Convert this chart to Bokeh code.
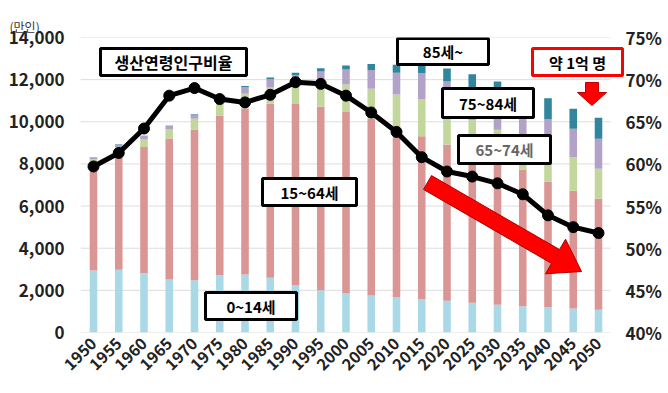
import numpy as np
from bokeh.plotting import figure
from bokeh.models import (Range1d, LinearAxis, BoxAnnotation, Label, FixedTicker,
                          NumeralTickFormatter, ColumnDataSource)
from bokeh.embed import file_html
from bokeh.resources import INLINE

# ---------------- data (만인) ----------------
years = [1950, 1955, 1960, 1965, 1970, 1975, 1980, 1985, 1990, 1995, 2000,
         2005, 2010, 2015, 2020, 2025, 2030, 2035, 2040, 2045, 2050]
age_0_14 = [2943, 2980, 2807, 2517, 2482, 2722, 2751, 2603, 2249, 2001, 1847,
            1752, 1680, 1589, 1507, 1407, 1321, 1246, 1194, 1138, 1077]
age_15_64 = [4966, 5473, 6000, 6693, 7157, 7581, 7883, 8251, 8590, 8716, 8622,
             8409, 8103, 7728, 7406, 7170, 6875, 6494, 5978, 5584, 5275]
age_65_74 = [309, 355, 373, 429, 509, 602, 699, 776, 892, 1109, 1301,
             1407, 1517, 1755, 1747, 1497, 1428, 1522, 1230, 1600, 1420]
age_75_84 = [92, 108, 146, 170, 199, 248, 313, 393, 482, 562, 712,
             886, 1028, 1235, 1252, 1460, 1520, 1254, 1720, 1345, 1424]
age_85p = [10, 12, 16, 19, 25, 37, 53, 78, 115, 155, 190,
           283, 380, 397, 620, 720, 768, 1006, 1000, 950, 997]
working_ratio = [59.7, 61.3, 64.2, 68.1, 69.0, 67.7, 67.3, 68.2, 69.7, 69.5, 68.1,
                 66.1, 63.8, 60.8, 59.1, 58.5, 57.7, 56.4, 53.9, 52.5, 51.8]
left_ticks = [0, 2000, 4000, 6000, 8000, 10000, 12000, 14000]
right_ticks = [40, 45, 50, 55, 60, 65, 70, 75]

series = ["a0", "a15", "a65", "a75", "a85"]
colors = ["#A9D9E6", "#D99694", "#C3D69B", "#B3A2C7", "#31859C"]

FONT = "Noto Sans CJK KR"

W, H = 668, 392
FL, FR, FT, FB = 80.0, 624.0, 37.0, 332.0   # frame edges in page pixels
PX_PER_YEAR = 5.05
X0 = 1950 - (93 - FL) / PX_PER_YEAR
X1 = 1950 + (FR - 93) / PX_PER_YEAR

p = figure(width=W, height=H, output_backend="svg", toolbar_location=None,
           x_range=Range1d(X0, X1), y_range=Range1d(0, 14000),
           min_border_left=int(FL), min_border_right=int(W - FR),
           min_border_top=int(FT), min_border_bottom=int(H - FB),
           outline_line_color=None)
p.extra_y_ranges = {"pct": Range1d(40, 75)}

def dx(px):
    return X0 + (px - FL) / PX_PER_YEAR
def dy(py):
    return (FB - py) / (FB - FT) * 14000.0

# grid lines (end at x=610 like the reference)
p.ygrid.grid_line_color = None
p.xgrid.grid_line_color = None
p.segment(x0=[dx(FL)] * len(left_ticks), x1=[dx(610)] * len(left_ticks),
          y0=left_ticks, y1=left_ticks, line_color="#DDDDDD", line_width=1)

src = ColumnDataSource(dict(year=years, a0=age_0_14, a15=age_15_64, a65=age_65_74,
                            a75=age_75_84, a85=age_85p))
p.vbar_stack(series, x="year", width=1.5, color=colors, line_color=None, source=src)

# axes
p.yaxis.ticker = FixedTicker(ticks=left_ticks)
p.yaxis.formatter = NumeralTickFormatter(format="0,0")
p.xaxis.ticker = FixedTicker(ticks=years)
p.xaxis.major_label_orientation = np.pi / 4
ax_r = LinearAxis(y_range_name="pct", ticker=FixedTicker(ticks=right_ticks),
                  major_label_overrides={t: f"{t}%" for t in right_ticks})
p.add_layout(ax_r, "right")
for ax in [p.yaxis[0], p.xaxis[0], ax_r]:
    ax.axis_line_color = None
    ax.major_tick_line_color = None
    ax.minor_tick_line_color = None
    ax.major_tick_in = 0
    ax.major_tick_out = 0
    ax.major_label_text_font = FONT
    ax.major_label_text_font_style = "bold"
    ax.major_label_text_color = "#222222"
p.yaxis[0].major_label_text_font_size = "17px"
p.yaxis[0].major_label_standoff = 16
ax_r.major_label_text_font_size = "17px"
ax_r.major_label_standoff = 1
p.xaxis[0].major_label_text_font_size = "16px"
p.xaxis[0].major_label_standoff = 8

# title "(만인)"
p.title.text = "(만인)"
p.title.align = "left"
p.title.offset = -71
p.title.standoff = 6
p.title.text_font = FONT
p.title.text_font_size = "12px"
p.title.text_font_style = "normal"
p.title.text_color = "#333333"

# big red arrow
S = np.array([427.0, 182.0]); T = np.array([581.0, 271.0])
u = (T - S) / np.linalg.norm(T - S); n = np.array([-u[1], u[0]])
B = T - 30 * u
pts = [S + 8 * n, B + 8 * n, B + 20 * n, T, B - 20 * n, B - 8 * n, S - 8 * n]
p.patch([dx(q[0]) for q in pts], [dy(q[1]) for q in pts], fill_color="#FF0000",
        line_color="#B00000", line_width=1)
# small red down arrow
sa = [(585, 82), (598, 82), (598, 92), (606, 92), (591.5, 105), (577, 92), (585, 92)]
p.patch([dx(a) for a, b in sa], [dy(b) for a, b in sa], fill_color="#FF0000",
        line_color="#C00000", line_width=1)

# ratio line
p.line(years, working_ratio, y_range_name="pct", line_width=5, color="black")
p.scatter(years, working_ratio, y_range_name="pct", size=11, color="black")

# boxed labels
def box(l, r, t, b, text, color="black", border="black", size="15px"):
    p.add_layout(BoxAnnotation(left=dx(l), right=dx(r), top=dy(t), bottom=dy(b),
                               fill_color="white", fill_alpha=1.0,
                               line_color=border, line_width=3, line_alpha=1.0))
    p.add_layout(Label(x=dx((l + r) / 2), y=dy((t + b) / 2), text=text,
                       text_align="center", text_baseline="middle",
                       text_font=FONT, text_font_style="bold",
                       text_font_size=size, text_color=color))

box(100, 246, 48, 75, "생산연령인구비율", size="16px")
box(262, 356, 178, 205, "15~64세")
box(205, 296, 292, 319, "0~14세")
box(397, 488, 38, 64, "85세~")
box(442, 533, 88, 117, "75~84세")
box(458, 550, 135, 163, "65~74세", color="#666666")
box(532, 622, 48, 75, "약 1억 명", border="#FF0000")

open("out.html", "w").write(file_html(p, INLINE))
